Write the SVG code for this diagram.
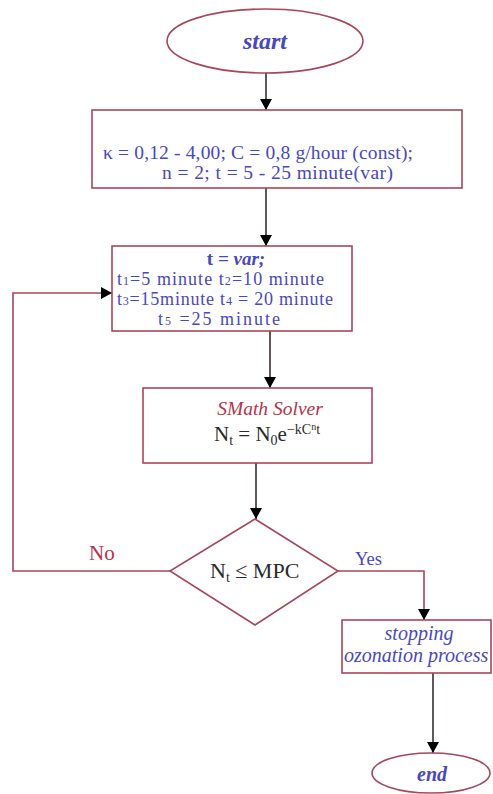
<svg xmlns="http://www.w3.org/2000/svg" width="493" height="794" viewBox="0 0 493 794">
  <style>
    .shape { fill: #ffffff; stroke: #a8475a; stroke-width: 1.6; }
    .txt { font-family: "Liberation Serif", "Times New Roman", serif; fill: #4848bf; }
    .red { fill: #b8334a; }
    .dark { fill: #2a2a2a; }
    .it { font-style: italic; }
    .flow { fill: none; stroke: #3a2c30; stroke-width: 1.6; }
    .loop { fill: none; stroke: #a8475a; stroke-width: 1.6; }
  </style>
  <defs>
    <marker id="arrow" markerUnits="userSpaceOnUse" markerWidth="12" markerHeight="14" refX="11" refY="6" orient="auto">
      <path d="M0,0 L11,6 L0,12 Z" fill="#000000"/>
    </marker>
  </defs>

  <rect width="493" height="794" fill="#ffffff"/>

  <g id="connectors">
    <line class="flow" x1="266" y1="73" x2="266" y2="110" marker-end="url(#arrow)"/>
    <line class="flow" x1="266" y1="188" x2="266" y2="246" marker-end="url(#arrow)"/>
    <line class="flow" x1="270" y1="331" x2="270" y2="388" marker-end="url(#arrow)"/>
    <line class="flow" x1="256" y1="463" x2="256" y2="519" marker-end="url(#arrow)"/>
    <polyline class="loop" points="170,571 13,571 13,293 112,293" marker-end="url(#arrow)"/>
    <polyline class="loop" points="338,571 424,571 424,620" marker-end="url(#arrow)"/>
    <line class="flow" x1="433" y1="673" x2="433" y2="753" marker-end="url(#arrow)"/>
    <text class="txt red" x="89" y="560" font-size="21">No</text>
    <text class="txt" x="355" y="565" font-size="18.5">Yes</text>
  </g>

  <g id="start">
    <ellipse class="shape" cx="265" cy="41" rx="98" ry="32"/>
    <text class="txt it" x="265" y="49" font-size="24" font-weight="bold" text-anchor="middle">start</text>
  </g>

  <g id="parameters">
    <rect class="shape" x="92" y="110" width="370" height="78"/>
    <text class="txt" x="103" y="159" font-size="19.5" textLength="310" lengthAdjust="spacing">κ = 0,12 - 4,00; C = 0,8 g/hour (const);</text>
    <text class="txt" x="162" y="179" font-size="19.5" textLength="231" lengthAdjust="spacing">n = 2; t = 5 - 25 minute(var)</text>
  </g>

  <g id="time-values">
    <rect class="shape" x="112" y="246" width="240" height="85"/>
    <text class="txt" x="236" y="265" font-size="19" font-weight="bold" text-anchor="middle">t <tspan class="it">= var;</tspan></text>
    <text class="txt" x="117" y="285" font-size="18" textLength="207" lengthAdjust="spacing">t<tspan font-size="12">1</tspan>=5 minute t<tspan font-size="12">2</tspan>=10 minute</text>
    <text class="txt" x="117" y="305" font-size="18" textLength="216" lengthAdjust="spacing">t<tspan font-size="12">3</tspan>=15minute t<tspan font-size="12">4</tspan> = 20 minute</text>
    <text class="txt" x="158" y="325" font-size="18" textLength="122" lengthAdjust="spacing">t<tspan font-size="12">5</tspan> =25 minute</text>
  </g>

  <g id="solver">
    <rect class="shape" x="143" y="388" width="229" height="75"/>
    <text class="txt red it" x="270" y="415" font-size="19.5" text-anchor="middle">SMath Solver</text>
    <text class="txt dark" x="214" y="441" font-size="21">N<tspan font-size="14" dy="4">t</tspan><tspan dy="-4"> = N</tspan><tspan font-size="14" dy="4">0</tspan><tspan dy="-4">e</tspan><tspan font-size="14" dy="-7">−kC</tspan><tspan font-size="10" dy="-4">n</tspan><tspan font-size="14" dy="4">t</tspan></text>
  </g>

  <g id="decision">
    <polygon class="shape" points="255,519 338,571 255,625 170,571"/>
    <text class="txt dark" x="210" y="578" font-size="22">N<tspan font-size="14" dy="4">t</tspan><tspan dy="-4"> ≤ MPC</tspan></text>
  </g>

  <g id="stop">
    <rect class="shape" x="342" y="620" width="149" height="53"/>
    <text class="txt it" x="419" y="640" font-size="20" text-anchor="middle">stopping</text>
    <text class="txt it" x="344" y="662" font-size="20">ozonation process</text>
  </g>

  <g id="end">
    <ellipse class="shape" cx="431" cy="773" rx="59" ry="20"/>
    <text class="txt it" x="432" y="781" font-size="20" font-weight="bold" text-anchor="middle">end</text>
  </g>
</svg>
